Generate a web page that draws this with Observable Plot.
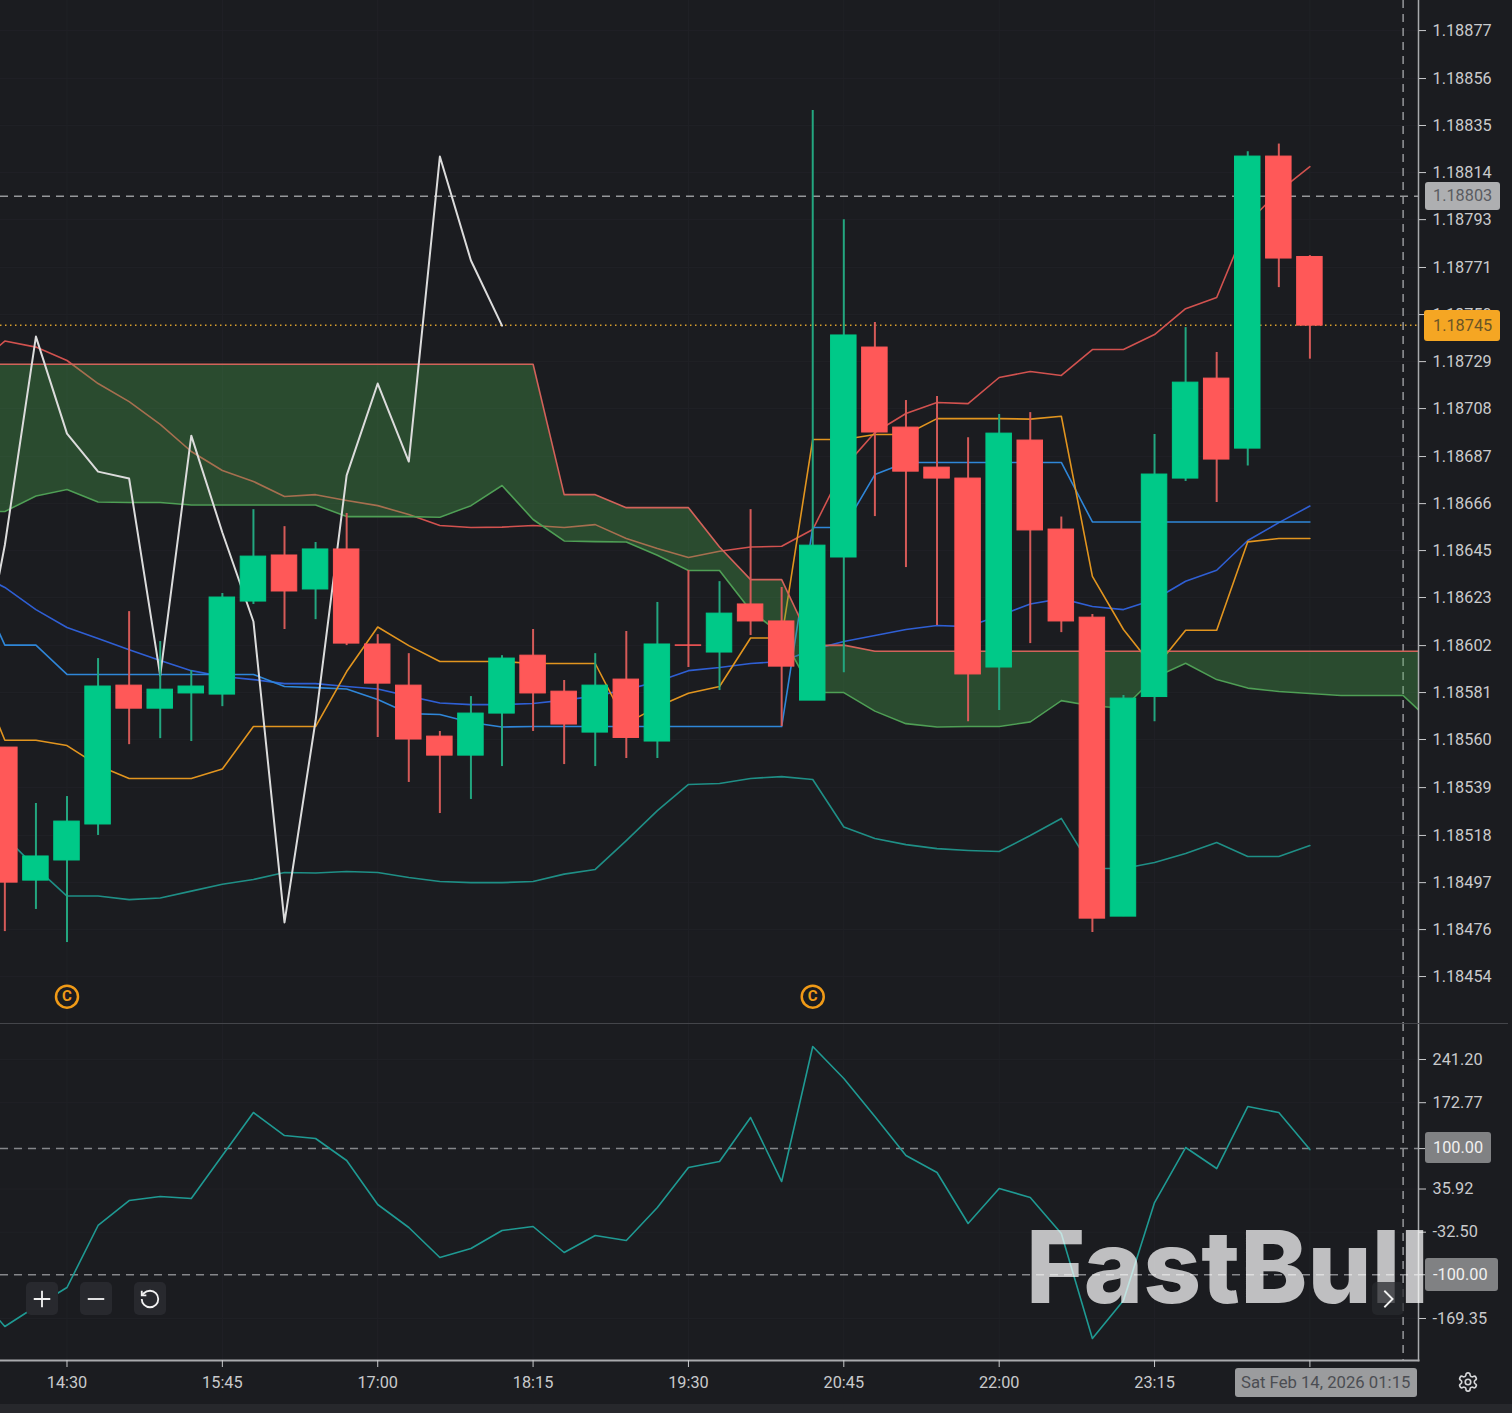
<!DOCTYPE html>
<html><head><meta charset="utf-8">
<script src="https://cdn.jsdelivr.net/npm/d3@7"></script>
<script src="https://cdn.jsdelivr.net/npm/@observablehq/plot@0.6"></script>
<style>
html,body{margin:0;padding:0;background:#1b1c20;overflow:hidden}
#wrap{position:relative;width:1512px;height:1413px;background:#1b1c20;font-family:Roboto,sans-serif;overflow:hidden}
#wrap svg{display:block}
.ov{position:absolute;box-sizing:border-box}
.lab{display:flex;align-items:center;font:16.3px Roboto,sans-serif;border-radius:3px;padding-left:8px}
.btn{width:32px;height:33px;border-radius:5px;background:#28292e;display:flex;align-items:center;justify-content:center}
</style></head><body><div id="wrap"></div>
<script>
// Prices are stored as millionths above 1.18 (6020 = 1.186020)
const firstBar = -2;               // bar 0 is 14:30, one bar every 15 minutes
const opens  = [5564,4969,5059,5220,5841,5738,5806,5801,6217,6423,6271,6450,6025,5841,5613,5528,5716,5975,5814,5631,5868,5591,6021,5989,6204,6128,5774,6414,7353,6995,6816,6767,5922,6937,6539,6145,4808,5790,6767,7214,6901,8207,7758];
const closes = [4960,5077,5233,5837,5738,5823,5837,6235,6418,6262,6450,6029,5850,5600,5528,5716,5962,5806,5667,5841,5607,6025,6019,6163,6128,5926,6467,7407,6973,6798,6767,5891,6968,6535,6128,4799,5783,6785,7196,6852,8207,7751,7451];
const highs  = [5564,5314,5345,5962,6172,6038,5908,6253,6628,6552,6481,6611,6069,5984,5636,5792,5975,6092,5864,5984,6083,6213,6356,6306,6628,6280,8413,7925,7465,7116,7134,6950,7053,7062,6595,6159,5797,6964,7442,7331,8229,8263,7764];
const lows   = [4741,4840,4692,5171,5577,5604,5591,5747,6204,6092,6136,6020,5609,5408,5269,5332,5479,5636,5488,5479,5515,5515,5922,5819,6065,5658,5774,5899,6597,6369,6110,5680,5730,6029,6078,4737,4808,5680,6754,6660,6823,7621,7301];

// Line series start one bar earlier, at bar -3
const lineStart = -3;
const bandUpper = [7263,7382,7355,7295,7192,7111,7009,6888,6803,6754,6687,6695,6669,6646,6606,6557,6548,6550,6557,6548,6561,6499,6454,6414,6442,6461,6464,6539,6816,6973,7058,7107,7102,7219,7246,7228,7344,7344,7411,7527,7577,7912,8051,8162];
const bandLower = [5238,5166,5027,4900,4900,4884,4891,4922,4953,4974,5005,5003,5010,5005,4983,4965,4960,4960,4965,4998,5019,5148,5282,5399,5403,5426,5434,5421,5209,5157,5130,5112,5104,5099,5171,5247,5023,5023,5050,5090,5139,5077,5077,5126];
const cloudTop = [7278,7278,7278,7278,7278,7278,7278,7278,7278,7278,7278,7278,7278,7278,7278,7278,7278,7278,7278,6695,6695,6637,6637,6637,6461,6315,6315,6020,6022,5995,5995,5995,5995,5995,5995,5995,5995,5995,5995,5995,5995,5995,5995,5995,5995,5995,5995,5995];
const cloudBottom = [6620,6620,6689,6718,6662,6660,6660,6649,6649,6649,6649,6649,6597,6597,6597,6594,6646,6736,6584,6488,6485,6483,6424,6356,6356,6177,6069,5810,5810,5727,5671,5656,5658,5658,5679,5774,5750,5741,5877,5941,5868,5830,5815,5806,5797,5797,5797,5667];
const orangeLine = [5935,5597,5597,5573,5484,5426,5426,5426,5468,5658,5658,5658,5904,6103,6020,5949,5949,5949,5940,5940,5940,5671,5747,5807,5837,6054,6054,6942,6942,6964,6964,7035,7035,7035,7033,7046,6330,6092,5917,6089,6089,6484,6499,6499];
const baseLine = [6329,6022,6022,5891,5891,5891,5891,5891,5891,5891,5837,5832,5826,5779,5716,5712,5676,5656,5658,5658,5658,5658,5658,5658,5658,5658,5658,6548,6548,6785,6839,6839,6839,6839,6839,6839,6573,6573,6573,6573,6573,6573,6573,6573];
const averageLine = [6351,6280,6181,6101,6052,6002,5953,5908,5882,5868,5850,5850,5837,5826,5794,5763,5756,5756,5761,5776,5794,5823,5859,5908,5922,5940,5949,6002,6038,6065,6092,6110,6105,6154,6206,6230,6195,6181,6226,6308,6357,6490,6570,6644];
const laggingLine = [5747,6470,7402,6968,6798,6767,5886,6959,6526,6128,4782,5685,6781,7192,6843,8207,7742,7451];

// Lower panel oscillator, from bar -3
const oscillator = [-124.9,-182,-150.3,-120.2,-21.9,17.7,24.1,20.9,89,157.2,120.7,116,81.1,11.4,-25.1,-72.6,-58.4,-29.8,-23.5,-64.7,-37.8,-45.7,6.6,70,79.5,149.3,47.8,261.8,211.1,150.9,89,62.1,-18.7,36.7,22.5,-34.6,-201,-140.8,14.5,101.7,68.4,166.7,157.2,98.5];

const priceTickLevels = [8770.5,8556,8346,8135.5,7925,7711,7500.5,7290,7080,6865.5,6655,6445,6235,6020,5810,5600,5385,5171,4960,4750,4540];
const priceTickLabels = ["1.18877","1.18856","1.18835","1.18814","1.18793","1.18771","1.18750","1.18729","1.18708","1.18687","1.18666","1.18645","1.18623","1.18602","1.18581","1.18560","1.18539","1.18518","1.18497","1.18476","1.18454"];
const oscTicks = [241.20,172.77,100,35.92,-32.50,-100,-169.35];
const timeTickBars = [0,5,10,15,20,25,30,35,40];
const timeTickLabels = ["14:30","15:45","17:00","18:15","19:30","20:45","22:00","23:15",""];
const markerBars = [0,24];
const markerPrice = 1.18445;
const lastPrice = 1.187453, crossPrice = 1.18803, crossBar = 43;
const oscLevels = [100,-100];
const crossTime = "Sat Feb 14, 2026 01:15";

const GREEN="#00c988", RED="#ff5858", WICK_G="#23a67f", WICK_R="#d55a58", AXIS="#a9aaad", TXT="#c9cacc", GRID="#202126", CROSS="#96979a";
const P = v => 1.18 + v/1e6;
const priceTicks = priceTickLevels.map(P);
const series = (arr,start) => arr.map((v,k)=>({i:start+k,v:P(v)}));
const bars = opens.map((o,k)=>({i:firstBar+k,open:P(o),close:P(closes[k]),high:P(highs[k]),low:P(lows[k])}));
const cloud = cloudTop.map((t,k)=>({i:lineStart+k,top:P(t),bottom:P(cloudBottom[k])}));
const oscData = oscillator.map((v,k)=>({i:lineStart+k,v}));
const xDomain = [-2.14,43.495];
const line = (arr,stroke,strokeWidth=1.6)=>Plot.line(series(arr,lineStart),{x:"i",y:"v",stroke,strokeWidth,clip:true,curve:"linear"});

const top_ = Plot.plot({
  width:1512,height:1023,marginTop:0,marginLeft:0,marginBottom:0,marginRight:94,
  style:{background:"transparent",color:TXT,fontFamily:"Roboto,sans-serif",fontSize:"16.3px"},
  x:{domain:xDomain,axis:null},
  y:{domain:[1.18433,1.188905]},
  marks:[
    Plot.gridX(timeTickBars,{stroke:GRID,strokeOpacity:1}),
    Plot.gridY(priceTicks,{stroke:GRID,strokeOpacity:1}),
    Plot.ruleY([lastPrice],{stroke:"#d9a02e",strokeDasharray:"1.5,3.5",strokeWidth:1.5}),
    Plot.ruleY([crossPrice],{stroke:CROSS,strokeDasharray:"8,6",strokeWidth:1.5}),
    Plot.ruleX([crossBar],{stroke:CROSS,strokeDasharray:"8,6",strokeWidth:1.5}),
    line(bandUpper,"#d2524f"),
    line(bandLower,"#1f8f86"),
    line(averageLine,"#2f5fd4"),
    line(baseLine,"#2f86d8"),
    line(orangeLine,"#e2951f"),
    Plot.areaY(cloud,{x:"i",y1:"top",y2:"bottom",fill:"#4caf50",fillOpacity:.32,clip:true}),
    Plot.line(cloud,{x:"i",y:"top",stroke:"#d2625a",strokeWidth:1.6,clip:true}),
    Plot.line(cloud,{x:"i",y:"bottom",stroke:"#4f9f55",strokeWidth:1.6,clip:true}),
    line(laggingLine,"#dcdcdc",2),
    Plot.ruleX(bars,{x:"i",y1:"low",y2:"high",stroke:d=>d.close>d.open?WICK_G:WICK_R,strokeWidth:2}),
    Plot.rect(bars,{x1:d=>d.i-.41,x2:d=>d.i+.41,y1:"open",y2:"close",fill:d=>d.close>d.open?GREEN:RED,stroke:d=>d.close>d.open?GREEN:RED,strokeWidth:1}),
    Plot.dot(markerBars,{x:d=>d,y:()=>markerPrice,r:11,stroke:"#f09a17",strokeWidth:2.5,fill:"none"}),
    Plot.text(markerBars,{x:d=>d,y:()=>markerPrice,text:()=>"C",fill:"#f09a17",fontSize:15,fontWeight:700}),
    Plot.frame({anchor:"right",stroke:AXIS,strokeWidth:1.5}),
    Plot.axisY({anchor:"right",ticks:priceTicks,tickFormat:d=>priceTickLabels[priceTicks.indexOf(d)],tickSize:7,tickPadding:7,label:null,fontSize:16.3})
  ]
});

const bottom_ = Plot.plot({
  width:1512,height:390,marginTop:0,marginLeft:0,marginBottom:53,marginRight:94,
  style:{background:"transparent",color:TXT,fontFamily:"Roboto,sans-serif",fontSize:"16.3px"},
  x:{domain:xDomain},
  y:{domain:[-235.9,298.3]},
  marks:[
    Plot.gridX(timeTickBars,{stroke:GRID,strokeOpacity:1}),
    Plot.gridY(oscTicks,{stroke:GRID,strokeOpacity:1}),
    Plot.ruleY(oscLevels,{stroke:"#85868a",strokeDasharray:"8,6",strokeWidth:1.5}),
    Plot.ruleX([crossBar],{stroke:CROSS,strokeDasharray:"8,6",strokeWidth:1.5}),
    Plot.line(oscData,{x:"i",y:"v",stroke:"#1f9a93",strokeWidth:1.6,clip:true}),
    Plot.frame({anchor:"right",stroke:AXIS,strokeWidth:1.5}),
    Plot.frame({anchor:"bottom",stroke:AXIS,strokeWidth:2}),
    Plot.axisY({anchor:"right",ticks:oscTicks,tickFormat:d=>d.toFixed(2),tickSize:7,tickPadding:7,label:null,fontSize:16.3}),
    Plot.axisX({ticks:timeTickBars,tickFormat:d=>timeTickLabels[timeTickBars.indexOf(d)],tickSize:7,tickPadding:9,label:null,fontSize:16.3})
  ]
});

const wrap = document.getElementById("wrap");
wrap.append(top_);
wrap.append(bottom_);

function div(cls,css,html){const e=document.createElement("div");e.className="ov "+cls;e.style.cssText=css;if(html!==undefined)e.innerHTML=html;wrap.append(e);return e;}
// panel separator and footer strip
div("", "left:0;top:1023px;width:1508px;height:1px;background:#44454a");
div("", "left:0;top:1404px;width:1512px;height:9px;background:#27282c");
// value labels placed through the chart's scales
const yT=v=>top_.scale("y").apply(v), yB=v=>1023+bottom_.scale("y").apply(v);
div("lab",`left:1425px;top:${yT(crossPrice)-14}px;width:75px;height:28px;background:#aeafb1;color:#5a5c61`,crossPrice.toFixed(5));
div("lab",`left:1424px;top:${yT(lastPrice)-15}px;width:76px;height:31px;padding-left:9px;background:#f5a623;color:#6b5526`,lastPrice.toFixed(5));
div("lab",`left:1425px;top:${yB(100)-16.5}px;width:66px;height:31px;background:#808183;color:#f0f0f0`,"100.00");
div("lab",`left:1425px;top:${yB(-100)-16.5}px;width:73px;height:33px;background:#808183;color:#f0f0f0`,"-100.00");
div("lab",`left:1235px;top:1368px;width:182px;height:29px;padding-left:6px;font-size:16.7px;background:#9b9c9e;color:#4b4d52`,crossTime);
// zoom controls
const ic=(d,w=22)=>`<svg width="${w}" height="${w}" viewBox="0 0 24 24" fill="none" stroke="#f2f2f2" stroke-width="2">${d}</svg>`;
div("btn","left:26px;top:1282px",ic('<path d="M3 12h18M12 3v18"/>'));
div("btn","left:80px;top:1282px",ic('<path d="M3 12h18"/>'));
div("btn","left:134px;top:1282px",ic('<path d="M3 12a9 9 0 1 0 9-9 9.75 9.75 0 0 0-6.74 2.74L3 8"/><path d="M3 3v5h5"/>'));
// watermark
div("", "left:0;top:0;width:1512px;height:1413px;pointer-events:none",
 `<svg width="1512" height="1413"><text x="1026" y="1303" font-family="Inter" font-weight="800" font-size="101" textLength="403" lengthAdjust="spacingAndGlyphs" fill="#fff" fill-opacity=".72">FastBull</text></svg>`);
div("btn","left:1372px;top:1282px;background:rgba(40,41,46,.75)",ic('<path d="M8 3l9 9-9 9"/>'));
// settings
div("", "left:1457px;top:1371px;line-height:0",`<svg width="22" height="22" viewBox="0 0 24 24" fill="none" stroke="#d5d6d8" stroke-width="1.8"><path d="M12.22 2h-.44a2 2 0 0 0-2 2v.18a2 2 0 0 1-1 1.73l-.43.25a2 2 0 0 1-2 0l-.15-.08a2 2 0 0 0-2.73.73l-.22.38a2 2 0 0 0 .73 2.73l.15.1a2 2 0 0 1 1 1.72v.51a2 2 0 0 1-1 1.74l-.15.09a2 2 0 0 0-.73 2.73l.22.38a2 2 0 0 0 2.73.73l.15-.08a2 2 0 0 1 2 0l.43.25a2 2 0 0 1 1 1.73V20a2 2 0 0 0 2 2h.44a2 2 0 0 0 2-2v-.18a2 2 0 0 1 1-1.73l.43-.25a2 2 0 0 1 2 0l.15.08a2 2 0 0 0 2.73-.73l.22-.39a2 2 0 0 0-.73-2.73l-.15-.08a2 2 0 0 1-1-1.74v-.5a2 2 0 0 1 1-1.74l.15-.09a2 2 0 0 0 .73-2.73l-.22-.38a2 2 0 0 0-2.73-.73l-.15.08a2 2 0 0 1-2 0l-.43-.25a2 2 0 0 1-1-1.73V4a2 2 0 0 0-2-2z"/><circle cx="12" cy="12" r="3"/></svg>`);
</script></body></html>
